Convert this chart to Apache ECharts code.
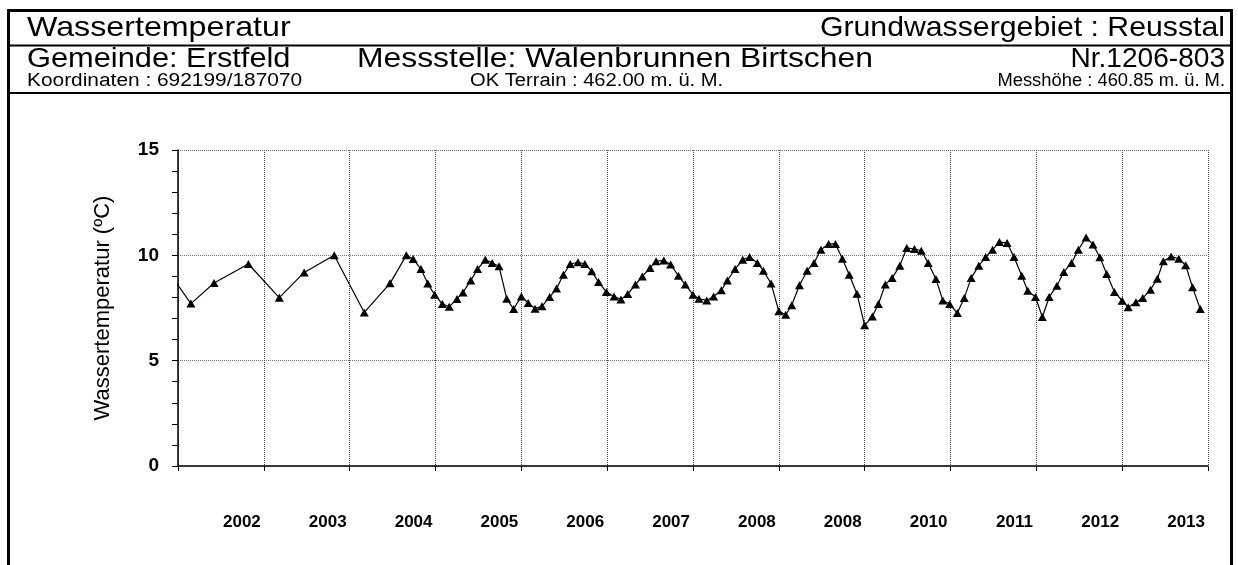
<!DOCTYPE html>
<html>
<head>
<meta charset="utf-8">
<script src="https://cdn.jsdelivr.net/npm/echarts@6/dist/echarts.min.js"></script>
<style>
  html, body { margin: 0; padding: 0; background: #fff; }
  #chart { width: 1238px; height: 565px; }
</style>
</head>
<body>
<div id="chart"></div>
<script>
// Messzeitpunkte als Dezimaljahr
const zeit = [
    2001.92, 2002.15, 2002.42, 2002.82, 2003.18, 2003.47, 2003.82,
    2004.17, 2004.47, 2004.66, 2004.74, 2004.83, 2004.91, 2004.99,
    2005.08, 2005.16, 2005.25, 2005.32, 2005.41, 2005.49, 2005.58, 2005.66, 2005.74, 2005.83, 2005.91, 2006.00,
    2006.08, 2006.16, 2006.24, 2006.33, 2006.41, 2006.49, 2006.57, 2006.66, 2006.74, 2006.82, 2006.90, 2006.99,
    2007.08, 2007.16, 2007.24, 2007.33, 2007.41, 2007.50, 2007.57, 2007.66, 2007.74, 2007.83, 2007.91, 2008.00,
    2008.07, 2008.16, 2008.24, 2008.33, 2008.40, 2008.49, 2008.58, 2008.66, 2008.75, 2008.82, 2008.91, 2009.00,
    2009.08, 2009.15, 2009.24, 2009.33, 2009.41, 2009.49, 2009.58, 2009.66, 2009.74, 2009.82, 2009.91, 2010.00,
    2010.09, 2010.16, 2010.24, 2010.32, 2010.41, 2010.49, 2010.58, 2010.66, 2010.74, 2010.83, 2010.91, 2010.99,
    2011.08, 2011.16, 2011.24, 2011.33, 2011.41, 2011.49, 2011.57, 2011.66, 2011.74, 2011.83, 2011.90, 2011.99,
    2012.07, 2012.15, 2012.24, 2012.32, 2012.41, 2012.49, 2012.58, 2012.66, 2012.74, 2012.82, 2012.91, 2013.00,
    2013.07, 2013.16, 2013.24, 2013.33, 2013.41, 2013.48, 2013.57, 2013.66, 2013.74, 2013.82, 2013.91
];

// Wassertemperatur in °C
const temp = [
    9.05, 7.71, 8.69, 9.59, 7.99, 9.19, 10.0,
    7.29, 8.67, 10.0, 9.83, 9.35, 8.66, 8.13,
    7.69, 7.56, 7.93, 8.24, 8.80, 9.35, 9.79, 9.64, 9.48, 7.94, 7.45, 8.05,
    7.74, 7.47, 7.58, 8.02, 8.42, 9.08, 9.59, 9.67, 9.59, 9.24, 8.73, 8.26,
    8.05, 7.90, 8.16, 8.61, 9.00, 9.40, 9.72, 9.76, 9.56, 9.03, 8.61, 8.13,
    7.94, 7.86, 8.05, 8.34, 8.80, 9.35, 9.79, 9.92, 9.64, 9.27, 8.66, 7.34,
    7.18, 7.63, 8.58, 9.27, 9.64, 10.27, 10.54, 10.54, 9.84, 9.08, 8.18, 6.68,
    7.10, 7.69, 8.61, 8.92, 9.51, 10.35, 10.30, 10.22, 9.64, 8.88, 7.86, 7.69,
    7.26, 7.97, 8.92, 9.51, 9.92, 10.27, 10.63, 10.59, 9.92, 9.03, 8.32, 8.02,
    7.07, 8.02, 8.56, 9.21, 9.64, 10.27, 10.85, 10.51, 9.91, 9.11, 8.26, 7.85,
    7.53, 7.77, 7.97, 8.37, 8.89, 9.72, 9.95, 9.84, 9.53, 8.48, 7.45
];

// Beschriftung der Jahre (wie im Original, inkl. doppeltem 2008)
const jahre = ['2002', '2003', '2004', '2005', '2006', '2007', '2008', '2008', '2010', '2011', '2012', '2013'];

document.addEventListener("DOMContentLoaded", function () {
    const chart = echarts.init(document.getElementById("chart"), null, { renderer: 'canvas' });
    const font = "Liberation Sans, Arial, sans-serif";

    const punkte = zeit.map((t, i) => [t, temp[i]]);

    // Kopfzeilen-Text (etwas breiter gezogen wie im Original)
    function txt(text, x, y, size, align, sx) {
        return {
            type: 'text', x: x, y: y, scaleX: sx || 1, silent: true,
            style: { text: text, fill: '#000', font: size + 'px ' + font, textAlign: align || 'left', textVerticalAlign: 'middle' }
        };
    }

    const option = {
        animation: false,
        backgroundColor: '#fff',
        graphic: [
            { type: 'rect', shape: { x: 8.5, y: 10.5, width: 1223, height: 600 }, style: { fill: 'none', stroke: '#000', lineWidth: 3 } },
            { type: 'line', shape: { x1: 8, y1: 45.5, x2: 1232, y2: 45.5 }, style: { stroke: '#000', lineWidth: 2 } },
            { type: 'line', shape: { x1: 8, y1: 93, x2: 1232, y2: 93 }, style: { stroke: '#000', lineWidth: 2 } },
            txt('Wassertemperatur', 27, 28, 28, 'left', 1.15),
            txt('Grundwassergebiet : Reusstal', 1225, 28, 28, 'right', 1.08),
            txt('Gemeinde: Erstfeld', 27, 60, 27, 'left', 1.14),
            txt('Messstelle: Walenbrunnen Birtschen', 357, 60, 27, 'left', 1.18),
            txt('Nr.1206-803', 1225, 60, 27, 'right', 1.04),
            txt('Koordinaten : 692199/187070', 27, 81, 18, 'left', 1.16),
            txt('OK Terrain : 462.00 m. ü. M.', 470, 81, 18, 'left', 1.12),
            txt('Messhöhe : 460.85 m. ü. M.', 1225, 81, 18, 'right', 1.02)
        ],
        grid: { left: 178, right: 30, top: 150, bottom: 99, containLabel: false },
        xAxis: [
            {
                type: 'value', min: 2002, max: 2014, interval: 1,
                axisLine: { show: true, onZero: false, lineStyle: { color: '#000', width: 1.5 } },
                axisTick: { show: true, length: 5, lineStyle: { color: '#000' } },
                axisLabel: { show: false },
                splitLine: { show: true, lineStyle: { color: '#444', type: 'dotted', width: 1 } }
            },
            {
                type: 'category', data: jahre, boundaryGap: true, position: 'bottom',
                axisLine: { show: false }, axisTick: { show: false }, splitLine: { show: false },
                axisLabel: { color: '#000', fontFamily: font, fontWeight: 'bold', fontSize: 17, margin: 48, padding: [0, 0, 0, 42] }
            }
        ],
        yAxis: {
            type: 'value', min: 0, max: 15, interval: 5,
            name: 'Wassertemperatur (ºC)', nameLocation: 'middle', nameGap: 64,
            nameTextStyle: { color: '#000', fontFamily: font, fontSize: 22 },
            axisLine: { show: true, lineStyle: { color: '#000', width: 1.5 } },
            axisTick: { show: true, length: 6, lineStyle: { color: '#000' } },
            minorTick: { show: true, splitNumber: 5, length: 6, lineStyle: { color: '#000' } },
            axisLabel: { color: '#000', fontFamily: font, fontWeight: 'bold', fontSize: 19, margin: 19 },
            splitLine: { show: true, lineStyle: { color: '#777', type: 'dotted', width: 1 } }
        },
        series: [
            {
                name: 'Wassertemperatur',
                type: 'line',
                xAxisIndex: 0,
                data: punkte,
                clip: true,
                symbol: 'triangle',
                symbolSize: [9, 8],
                showAllSymbol: true,
                itemStyle: { color: '#000' },
                lineStyle: { color: '#000', width: 1.2 }
            }
        ]
    };

    chart.setOption(option);
});
</script>
</body>
</html>
